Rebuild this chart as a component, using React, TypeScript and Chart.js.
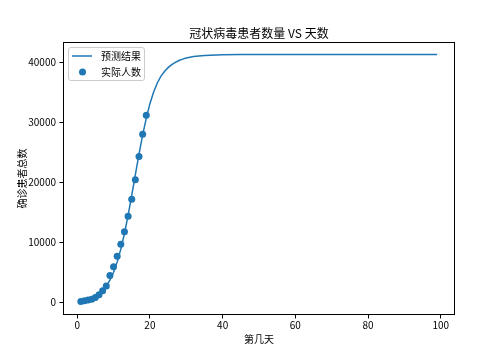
import React, { useEffect, useRef } from "react";
import { Chart, registerables } from "chart.js";

Chart.register(...registerables);

const titleText = "冠状病毒患者数量 VS 天数";
const xTitle = "第几天";
const yTitle = "确诊患者总数";
const lineLabel = "预测结果";
const scatterLabel = "实际人数";

// actual confirmed cases (day index, count)
const actualDays = [1, 2, 3, 4, 5, 6, 7, 8, 9, 10, 11, 12, 13, 14, 15, 16, 17, 18, 19];
const actualCounts = [198, 291, 440, 571, 830, 1287, 1975, 2744, 4515, 5974, 7711, 9692, 11791, 14380, 17205, 20438, 24324, 28018, 31161];

// predicted curve
const predDays = [1, 2, 3, 4, 5, 6, 7, 8, 9, 10, 11, 12, 13, 14, 15, 16, 17, 18, 19, 20, 21, 22, 23, 24, 25, 26, 27, 28, 29, 30, 32, 35, 40, 45, 50, 60, 70, 80, 90, 99];
const predCounts = [270, 375, 525, 735, 1025, 1425, 1975, 2720, 3720, 5050, 6750, 8900, 11500, 14500, 17850, 21300, 24700, 27850, 30700, 33100, 35000, 36500, 37650, 38450, 39100, 39600, 39980, 40280, 40520, 40700, 40950, 41130, 41240, 41280, 41295, 41300, 41300, 41300, 41300, 41300];

const xTicks = [0, 20, 40, 60, 80, 100];
const yTicks = [0, 10000, 20000, 30000, 40000];

const BLUE = "#1f77b4";
const CJK = "'Noto Sans CJK SC', sans-serif";
const NUM = "'Liberation Sans Narrow', 'Noto Sans CJK SC', sans-serif";

const framePlugin = {
  id: "frameAndLegend",
  afterDraw(chart: any) {
    const { ctx, chartArea } = chart;
    const { left, top, right, bottom } = chartArea;
    ctx.save();
    ctx.strokeStyle = "#000";
    ctx.lineWidth = 1;
    ctx.strokeRect(Math.round(left) + 0.5, Math.round(top) + 0.5, Math.round(right - left) - 1, Math.round(bottom - top) - 1);

    // legend box
    const bx = left + 5.5, by = top + 5.5, bw = 76, bh = 33;
    const r = 2.5;
    ctx.beginPath();
    ctx.moveTo(bx + r, by);
    ctx.lineTo(bx + bw - r, by);
    ctx.arcTo(bx + bw, by, bx + bw, by + r, r);
    ctx.lineTo(bx + bw, by + bh - r);
    ctx.arcTo(bx + bw, by + bh, bx + bw - r, by + bh, r);
    ctx.lineTo(bx + r, by + bh);
    ctx.arcTo(bx, by + bh, bx, by + bh - r, r);
    ctx.lineTo(bx, by + r);
    ctx.arcTo(bx, by, bx + r, by, r);
    ctx.closePath();
    ctx.fillStyle = "rgba(255,255,255,0.8)";
    ctx.fill();
    ctx.strokeStyle = "#cccccc";
    ctx.stroke();

    // line sample
    ctx.strokeStyle = BLUE;
    ctx.lineWidth = 1.5;
    ctx.beginPath();
    ctx.moveTo(left + 9, top + 14);
    ctx.lineTo(left + 29, top + 14);
    ctx.stroke();
    // circle sample
    ctx.fillStyle = BLUE;
    ctx.beginPath();
    ctx.arc(left + 19.5, top + 30, 3.5, 0, Math.PI * 2);
    ctx.fill();

    ctx.fillStyle = "#000";
    ctx.font = `10px ${CJK}`;
    ctx.textBaseline = "middle";
    ctx.textAlign = "left";
    ctx.fillText(lineLabel, left + 38, top + 14);
    ctx.fillText(scatterLabel, left + 38, top + 30);
    ctx.restore();
  },
};

export default function App() {
  const ref = useRef<HTMLCanvasElement | null>(null);
  useEffect(() => {
    if (!ref.current) return;
    const chart = new Chart(ref.current, {
      type: "line",
      data: {
        datasets: [
          {
            type: "line",
            label: lineLabel,
            data: predDays.map((d, i) => ({ x: d, y: predCounts[i] })),
            borderColor: BLUE,
            backgroundColor: BLUE,
            borderWidth: 1.5,
            pointRadius: 0,
            tension: 0,
            fill: false,
            order: 1,
          },
          {
            type: "scatter",
            label: scatterLabel,
            data: actualDays.map((d, i) => ({ x: d, y: actualCounts[i] })),
            backgroundColor: BLUE,
            borderColor: BLUE,
            borderWidth: 0,
            pointRadius: 3.5,
            order: 2,
          } as any,
        ],
      },
      options: {
        animation: false,
        responsive: false,
        maintainAspectRatio: false,
        layout: { padding: { left: 0, right: 49, top: 0, bottom: 0 } },
        plugins: {
          legend: { display: false },
          tooltip: { enabled: false },
          title: {
            display: true,
            text: titleText,
            fullSize: false,
            color: "#000",
            font: { size: 12, family: CJK, weight: "normal", lineHeight: 1.2 },
            padding: { top: 26, bottom: 1.6 },
          },
        },
        scales: {
          x: {
            type: "linear",
            min: -3.9,
            max: 103.9,
            afterBuildTicks: (scale: any) => {
              scale.ticks = xTicks.map((v) => ({ value: v }));
            },
            afterFit: (scale: any) => {
              scale.height = 45;
            },
            grid: { display: true, drawOnChartArea: false, drawTicks: true, tickLength: 3.5, tickColor: "#000", tickWidth: 1 },
            border: { display: false },
            ticks: { color: "#000", font: { size: 10, family: NUM }, padding: 1, maxRotation: 0, autoSkip: false },
            title: { display: true, text: xTitle, color: "#000", font: { size: 10, family: CJK }, padding: { top: 0, bottom: 15 } },
          },
          y: {
            type: "linear",
            min: -2065,
            max: 43365,
            afterBuildTicks: (scale: any) => {
              scale.ticks = yTicks.map((v) => ({ value: v }));
            },
            afterFit: (scale: any) => {
              scale.width = 63;
            },
            grid: { display: true, drawOnChartArea: false, drawTicks: true, tickLength: 3.5, tickColor: "#000", tickWidth: 1 },
            border: { display: false },
            ticks: { color: "#000", font: { size: 10, family: NUM }, padding: 3.5, autoSkip: false, callback: (v: any) => String(v) },
            title: { display: true, text: yTitle, color: "#000", font: { size: 10, family: CJK }, padding: { top: 16.7, bottom: 0 } },
          },
        },
      } as any,
      plugins: [framePlugin],
    });
    return () => chart.destroy();
  }, []);
  return (
    <div style={{ position: "fixed", left: 0, top: 0, width: 504, height: 360, background: "#fff" }}>
      <canvas ref={ref} width={504} height={360} style={{ width: 504, height: 360, display: "block" }} />
    </div>
  );
}
